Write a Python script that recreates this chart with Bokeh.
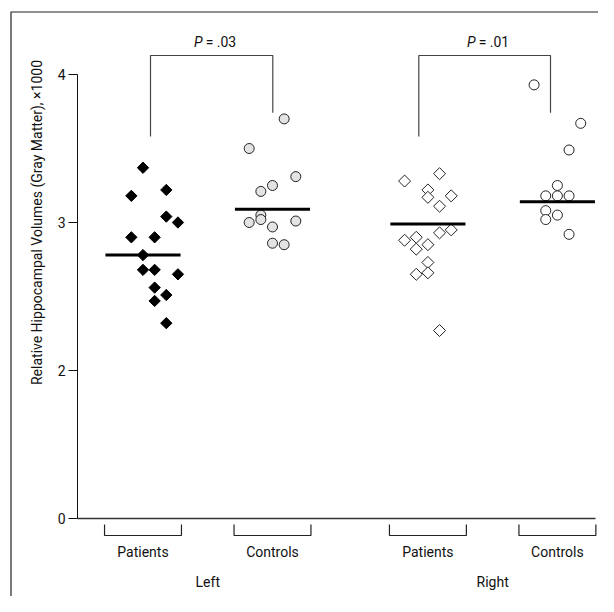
import math
from bokeh.plotting import figure
from bokeh.models import Range1d, LinearAxis, FixedTicker
from bokeh.core.properties import value
from bokeh.embed import file_html
from bokeh.resources import INLINE

# ---------------- data ----------------
groups = ["Patients", "Controls", "Patients", "Controls"]
sides = ["Left", "Right"]
y_ticks = [1, 2, 3, 4]
y_tick_labels = {1: "0"}          # broken axis: the lowest tick stands for 0
p_values = ["= .03", "= .01"]

left_patients = [3.37, 3.18, 3.22, 3.04, 3.00, 2.90, 2.90, 2.78, 2.68, 2.68, 2.65, 2.56, 2.51, 2.47, 2.32]
left_patients_slot = [0, -1, 2, 2, 3, -1, 1, 0, 0, 1, 3, 1, 2, 1, 2]
left_controls = [3.70, 3.50, 3.31, 3.25, 3.21, 3.05, 3.02, 3.00, 2.97, 3.01, 2.86, 2.85]
left_controls_slot = [1, -2, 2, 0, -1, -1, -1, -2, 0, 2, 0, 1]
right_patients = [3.33, 3.28, 3.22, 3.17, 3.18, 3.11, 2.93, 2.95, 2.88, 2.90, 2.82, 2.85, 2.73, 2.65, 2.66, 2.27]
right_patients_slot = [1, -2, 0, 0, 2, 1, 1, 2, -2, -1, -1, 0, 0, -1, 0, 1]
right_controls = [3.93, 3.67, 3.49, 3.25, 3.18, 3.18, 3.18, 3.08, 3.05, 3.02, 2.92]
right_controls_slot = [-2, 2, 1, 0, -1, 0, 1, -1, 0, -1, 1]
group_lines = [2.78, 3.09, 2.99, 3.14]

# ---------------- layout constants ----------------
cat_x = [0.0, 1.0, 2.2, 3.2]
step = 0.09
FONT_NAME = "Roboto"
FONT = value(FONT_NAME)
W, H = 598, 596


def px_x(px):
    return (px - 142.5) / 129.5


def px_y(py):
    return 3 + (222 - py) / 148


p = figure(width=W, height=H, output_backend="svg", toolbar_location=None,
           x_range=Range1d(px_x(0), px_x(W)), y_range=Range1d(px_y(H), px_y(0)),
           x_axis_type=None, y_axis_type=None, min_border=0)
p.outline_line_color = None
p.background_fill_color = "white"
p.border_fill_color = "white"

# outer frame (top and left visible)
p.line(x=[px_x(10.5), px_x(10.5), px_x(700)], y=[px_y(700), px_y(11.5), px_y(11.5)],
       line_color="#222222", line_width=1.2)

# axes
X0 = px_x(77)
yax = LinearAxis(fixed_location=X0, bounds=(1, 4), ticker=FixedTicker(ticks=y_ticks),
                 major_label_overrides=y_tick_labels,
                 major_tick_out=9, major_tick_in=0, minor_tick_out=0, minor_tick_in=0,
                 major_label_standoff=3,
                 axis_line_color="#111111", major_tick_line_color="#111111",
                 major_label_text_font=FONT_NAME,
                 major_label_text_font_size="14px", major_label_text_color="#111111")
p.add_layout(yax, "left")
xax = LinearAxis(fixed_location=1, bounds=(X0, px_x(595)), ticker=FixedTicker(ticks=[]),
                 major_tick_out=0, major_tick_in=0, minor_tick_out=0, minor_tick_in=0,
                 axis_line_color="#333333", axis_line_width=1.6,
                 major_label_text_font_size="0px")
p.add_layout(xax, "below")

# data points
def xs(i, slots):
    return [cat_x[i] + s * step for s in slots]

p.scatter(xs(0, left_patients_slot), left_patients, marker="square", angle=math.pi / 4,
          size=8, fill_color="black", line_color="black", line_width=1)
p.scatter(xs(1, left_controls_slot), left_controls, marker="circle",
          size=10, fill_color="#e3e3e3", line_color="#222222", line_width=1)
p.scatter(xs(2, right_patients_slot), right_patients, marker="square", angle=math.pi / 4,
          size=8.5, fill_color="white", line_color="#222222", line_width=1)
p.scatter(xs(3, right_controls_slot), right_controls, marker="circle",
          size=10, fill_color="white", line_color="#222222", line_width=1)

# group lines
hw = 0.29
p.segment(x0=[c - hw for c in cat_x], x1=[c + hw for c in cat_x], y0=group_lines, y1=group_lines,
          line_color="black", line_width=3)

# bottom brackets and labels
bw = 0.297
yb0, yb1 = px_y(524), px_y(535)
for c in cat_x:
    p.line(x=[c - bw, c - bw, c + bw, c + bw], y=[yb0, yb1, yb1, yb0], line_color="#222222", line_width=1.2)
p.text(x=cat_x, y=[px_y(551)] * 4, text=groups, text_align="center", text_baseline="middle",
       text_font=FONT, text_font_size="14px", text_color="#111111")
side_x = [(cat_x[0] + cat_x[1]) / 2, (cat_x[2] + cat_x[3]) / 2]
p.text(x=side_x, y=[px_y(581.5)] * 2, text=sides, text_align="center", text_baseline="middle",
       text_font=FONT, text_font_size="14px", text_color="#111111")

# significance brackets
br = [(px_x(150), px_x(272.3)), (px_x(418.3), px_x(550))]
ytop, yl, yr = px_y(55), px_y(136), px_y(112.3)
for (a, b) in br:
    p.line(x=[a, a, b, b], y=[yl, ytop, ytop, yr], line_color="#444444", line_width=1.2)
bc = [(a + b) / 2 for a, b in br]
p.text(x=bc, y=[px_y(41)] * 2, text=["P", "P"], x_offset=-9, text_align="right", text_baseline="middle",
       text_font=FONT, text_font_size="14px", text_font_style="italic", text_color="#111111")
p.text(x=bc, y=[px_y(41)] * 2, text=p_values, x_offset=-6, text_align="left", text_baseline="middle",
       text_font=FONT, text_font_size="14px", text_color="#111111")

# y axis title
p.text(x=[px_x(36)], y=[px_y(222)], text=["Relative Hippocampal Volumes (Gray Matter), \u00d71000"],
       angle=math.pi / 2, text_align="center", text_baseline="middle",
       text_font=FONT, text_font_size="14px", text_color="#111111")

open("out.html", "w").write(file_html(p, INLINE))
